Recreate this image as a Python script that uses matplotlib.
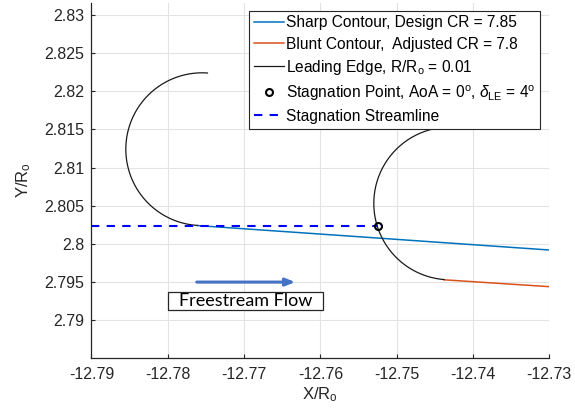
import matplotlib
matplotlib.use("Agg")
import matplotlib.pyplot as plt
import numpy as np
from matplotlib.patches import Rectangle
from matplotlib.ticker import FuncFormatter, MultipleLocator

plt.rcParams['font.family'] = ['Liberation Sans', 'DejaVu Sans']
plt.rcParams['mathtext.fontset'] = 'custom'
plt.rcParams['mathtext.rm'] = 'Liberation Sans'
plt.rcParams['mathtext.it'] = 'Liberation Sans:italic'
plt.rcParams['axes.unicode_minus'] = False

# leading edge arcs (center x, center y, radius, start/end angle in deg)
le_left = (-12.7755, 2.8124, 0.01, 86, 266.5)
le_right = (-12.7430, 2.8053, 0.01, 88, 265.5)

# sharp contour (design CR = 7.85)
sharp_x = [-12.7761, -12.7573, -12.7300]
sharp_y = [2.8024, 2.8011, 2.7992]

# blunt contour (adjusted CR = 7.8)
blunt_x = [-12.7438, -12.7300]
blunt_y = [2.7953, 2.7944]

# stagnation point and streamline
stag_x, stag_y = -12.7525, 2.8024
stream_x = [-12.79, stag_x]
stream_y = [stag_y, stag_y]

# freestream arrow
flow_x = [-12.7762, -12.7633]
flow_y = 2.7950

dark = '#262626'

def arc(params):
    cx, cy, r, a0, a1 = params
    t = np.radians(np.linspace(a0, a1, 200))
    return cx + r * np.cos(t), cy + r * np.sin(t)

fig = plt.figure(figsize=(5.75, 4.19), dpi=100)
ax = fig.add_axes([0.1591, 0.1463, 0.7962, 0.8458])

ax.plot(sharp_x, sharp_y, color='#0072BD', lw=1.1, zorder=3,
        label='Sharp Contour, Design CR = 7.85')
ax.plot(blunt_x, blunt_y, color='#D95319', lw=1.1, zorder=3,
        label='Blunt Contour,  Adjusted CR = 7.8')
lx, ly = arc(le_left)
ax.plot(lx, ly, color='#1a1a1a', lw=0.9, zorder=3,
        label='Leading Edge, R/R$_\\mathrm{o}$ = 0.01')
rx, ry = arc(le_right)
ax.plot(rx, ry, color='#1a1a1a', lw=0.9, zorder=3)
ax.plot([stag_x], [stag_y], 'o', ms=5, mfc='none', mec='k', mew=1.5, zorder=5,
        label='Stagnation Point, AoA = 0$^\\mathrm{o}$, $\\delta_\\mathrm{LE}$ = 4$^\\mathrm{o}$')
ax.plot(stream_x, stream_y, color='#0000FF', lw=1.5, ls=(0, (4, 3.5)), zorder=4,
        label='Stagnation Streamline')

ax.annotate('', xy=(flow_x[1], flow_y), xytext=(flow_x[0], flow_y),
            arrowprops=dict(arrowstyle='-|>,head_length=0.55,head_width=0.22',
                            color='#4472C4', lw=2.2, shrinkA=0, shrinkB=0),
            zorder=4)
ax.add_patch(Rectangle((-12.7800, 2.79135), 0.0204, 0.00239, fill=True,
                       facecolor='white', edgecolor='#262626', lw=0.9, zorder=4))
ax.text(-12.7698, 2.79254, 'Freestream Flow', ha='center', va='center',
        fontsize=13, family=['Lato', 'DejaVu Sans'], color='black', zorder=5)

ax.set_xlim(-12.79, -12.73)
ax.set_ylim(2.7851, 2.8315)
ax.xaxis.set_major_locator(MultipleLocator(0.01))
ax.yaxis.set_major_locator(MultipleLocator(0.005))
fmt = FuncFormatter(lambda v, p: '%g' % round(v, 4))
ax.xaxis.set_major_formatter(fmt)
ax.yaxis.set_major_formatter(fmt)

ax.grid(True, color='#e3e3e3', lw=0.8)
ax.set_axisbelow(True)
for s in ['top', 'right']:
    ax.spines[s].set_visible(False)
for s in ['left', 'bottom']:
    ax.spines[s].set_color(dark)
    ax.spines[s].set_linewidth(0.9)
ax.tick_params(direction='in', length=3, width=0.8, colors=dark,
               labelsize=11.5)
ax.tick_params(axis='x', pad=7)
ax.tick_params(axis='y', pad=5)

ax.set_xlabel('X/R$_\\mathrm{o}$', fontsize=12, color=dark, labelpad=2)
ax.set_ylabel('Y/R$_\\mathrm{o}$', fontsize=12, color=dark, labelpad=8)

leg = ax.legend(loc='upper right', bbox_to_anchor=(0.9797, 0.979),
                fontsize=11.2, frameon=True, fancybox=False, framealpha=1,
                edgecolor=dark, handlelength=1.95, handletextpad=0.12,
                borderpad=0.3, borderaxespad=0, labelspacing=0.4)
leg.get_frame().set_linewidth(0.8)
leg.set_zorder(10)

fig.savefig('out.png', dpi=100, facecolor='white')
